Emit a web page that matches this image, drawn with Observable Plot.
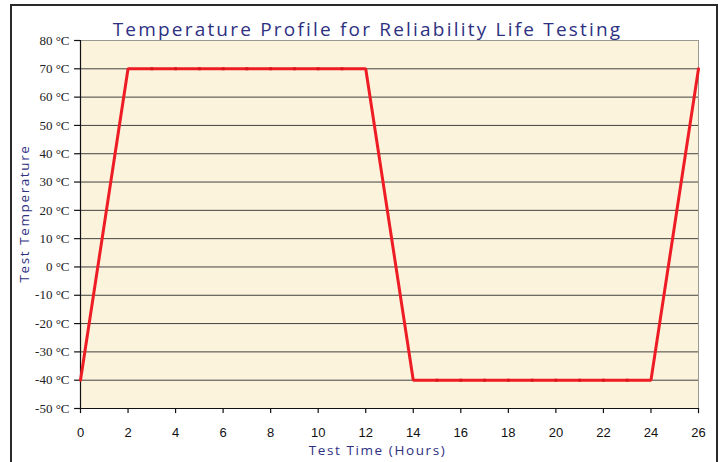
<!DOCTYPE html>
<html>
<head>
<meta charset="utf-8">
<script src="https://cdn.jsdelivr.net/npm/d3@7"></script>
<script src="https://cdn.jsdelivr.net/npm/@observablehq/plot@0.6"></script>
<style>
  html, body { margin: 0; padding: 0; background: #ffffff; }
  #wrap { position: relative; width: 723px; height: 462px; overflow: hidden; }
  #border { position: absolute; left: 10px; top: 4px; width: 704px; height: 480px; border: 2px solid #2a2a2a; box-sizing: content-box; }
  #chart { position: absolute; left: 0; top: 0; }
  .ttl text { font-family: "Open Sans", sans-serif; font-size: 19px; letter-spacing: 2.2px; fill: #2e3082; }
  .lbl text { font-family: "Open Sans", sans-serif; font-size: 13.5px; letter-spacing: 1.6px; fill: #2e3082; }
  .ytl text { font-family: "Liberation Serif", serif; font-size: 13px; fill: #222; }
  .xtl text { font-family: "Liberation Sans", sans-serif; font-size: 13px; fill: #111; }
</style>
</head>
<body>
<div id="wrap">
  <div id="border"></div>
  <div id="chart"></div>
</div>
<script>
// Data
const hours = [0,1,2,3,4,5,6,7,8,9,10,11,12,13,14,15,16,17,18,19,20,21,22,23,24,25,26];
const temps = [-40,15,70,70,70,70,70,70,70,70,70,70,70,15,-40,-40,-40,-40,-40,-40,-40,-40,-40,-40,-40,15,70];
const markerHours = [3,4,5,6,7,8,9,10,11,15,16,17,18,19,20,21,22,23];
const xTicks = [0,2,4,6,8,10,12,14,16,18,20,22,24,26];
const yTicks = [-50,-40,-30,-20,-10,0,10,20,30,40,50,60,70,80];
const titleText = "Temperature Profile for Reliability Life Testing";
const xLabel = "Test Time (Hours)";
const yLabel = "Test Temperature";

const data = hours.map((h, i) => ({h, t: temps[i]}));
const markers = data.filter(d => markerHours.includes(d.h));

const plot = Plot.plot({
  width: 723,
  height: 462,
  marginLeft: 80,
  marginRight: 25,
  marginTop: 40,
  marginBottom: 54,
  style: {background: "transparent", overflow: "visible"},
  x: {domain: [0, 26], axis: null},
  y: {domain: [-50, 80], axis: null},
  marks: [
    Plot.frame({fill: "#fcf3dd", stroke: "#9a9a92", strokeWidth: 1}),
    Plot.gridY(yTicks.filter(v => v > -50 && v < 80), {stroke: "#2f2f2f", strokeOpacity: 0.9, strokeWidth: 1}),
    Plot.ruleX([0], {stroke: "#111", strokeWidth: 1.2}),
    Plot.ruleY([-50], {stroke: "#111", strokeWidth: 1.2}),
    // y ticks (outward, 6px ≈ 0.25 h)
    Plot.ruleY(yTicks, {y: d => d, x1: -0.25, x2: 0, stroke: "#111", strokeWidth: 1.2, clip: false}),
    // x ticks (downward, 5px ≈ 1.77 °C)
    Plot.ruleX(xTicks, {x: d => d, y1: -51.8, y2: -50, stroke: "#111", strokeWidth: 1.2, clip: false}),
    Plot.text(yTicks, {y: d => d, frameAnchor: "left", dx: -11, textAnchor: "end", text: d => d + " °C", className: "ytl"}),
    Plot.text(xTicks, {x: d => d, frameAnchor: "bottom", dy: 28, text: d => String(d), className: "xtl"}),
    Plot.line(data, {x: "h", y: "t", stroke: "#ee1c24", strokeWidth: 3, strokeLinejoin: "miter"}),
    Plot.dot(markers, {x: "h", y: "t", symbol: "square", r: 1.6, fill: "#d8141c", stroke: null}),
    Plot.text([titleText], {
      frameAnchor: "top", dy: -18, dx: -22, text: d => d, className: "ttl"
    }),
    Plot.text([xLabel], {
      frameAnchor: "bottom", dy: 46, dx: -12, text: d => d, className: "lbl"
    }),
    Plot.text([yLabel], {
      frameAnchor: "left", textAnchor: "middle", dx: -56, dy: -11, rotate: -90, text: d => d, className: "lbl"
    })
  ]
});
document.getElementById("chart").appendChild(plot);
</script>
</body>
</html>
